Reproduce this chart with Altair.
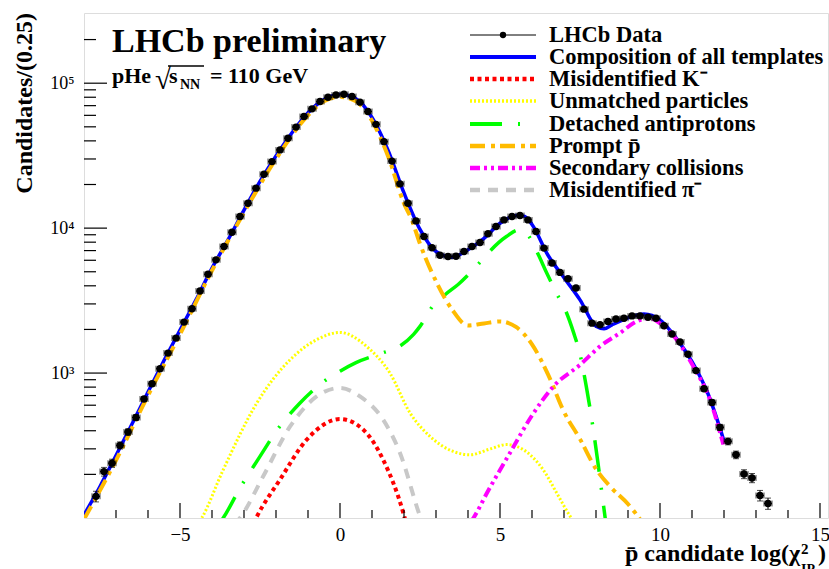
import altair as alt
import pandas as pd

FONT = "Liberation Serif"

# ---------------- data ----------------
bin_width = 0.25
bin_centers = [
    -7.625, -7.375, -7.125, -6.875, -6.625, -6.375, -6.125, -5.875, -5.625, -5.375,
    -5.125, -4.875, -4.625, -4.375, -4.125, -3.875, -3.625, -3.375, -3.125, -2.875,
    -2.625, -2.375, -2.125, -1.875, -1.625, -1.375, -1.125, -0.875, -0.625, -0.375,
    -0.125, 0.125, 0.375, 0.625, 0.875, 1.125, 1.375, 1.625, 1.875, 2.125,
    2.375, 2.625, 2.875, 3.125, 3.375, 3.625, 3.875, 4.125, 4.375, 4.625,
    4.875, 5.125, 5.375, 5.625, 5.875, 6.125, 6.375, 6.625, 6.875, 7.125,
    7.375, 7.625, 7.875, 8.125, 8.375, 8.625, 8.875, 9.125, 9.375, 9.625,
    9.875, 10.125, 10.375, 10.625, 10.875, 11.125, 11.375, 11.625, 11.875, 12.125,
    12.375, 12.625, 12.875, 13.125, 13.375,
]
counts = [
    141, 209, 239, 317, 392, 494, 662, 844, 1071, 1373,
    1743, 2247, 2775, 3679, 4800, 6040, 7465, 9370, 12020, 14860,
    18870, 23560, 28770, 34660, 41750, 49770, 58930, 66530, 74670, 80000,
    83000, 84000, 81000, 74000, 63700, 52000, 39500, 29000, 20200, 14860,
    11220, 8750, 7320, 6500, 6370, 6400, 6900, 7470, 7960, 9140,
    10260, 11400, 12020, 12220, 11400, 9480, 7280, 5740, 4950, 4470,
    3860, 2760, 2210, 2155, 2270, 2360, 2390, 2480, 2480, 2430,
    2390, 2120, 1860, 1640, 1350, 1040, 780, 627, 422, 338,
    273, 201, 189, 143, 126,
]

blue_x = [-8, -7.5, -7, -6.5, -6, -5.5, -5, -4.5, -4, -3.5, -3, -2.5, -2, -1.5, -1, -0.5,
          0, 0.5, 1, 1.5, 2, 2.5, 3, 3.5, 4, 4.5, 5, 5.5, 5.75, 6, 6.5, 7, 7.5, 8, 8.25,
          8.5, 9, 9.5, 10, 10.5, 11, 11.5, 12]
blue_y = [105, 165, 270, 445, 740, 1220, 1980, 3200, 5300, 8300, 13300, 21000, 31500, 45500,
          62500, 77000, 83500, 78000, 58000, 34500, 17500, 9800, 6900, 6300, 7100, 8500, 10800,
          12200, 12100, 10600, 6500, 4550, 3200, 2100, 2020, 2150, 2400, 2560, 2330, 1750,
          1200, 720, 340]

red_x = [-2.7, -2.6, -1.875, -1.04, 0, 0.73, 1.35, 1.98, 2.05]
red_y = [92, 102, 184, 347, 482, 406, 252, 108, 95]

yellow_x = [-4.45, -4.32, -3.65, -2.6, -1.56, -0.73, 0, 0.83, 1.56, 2.19, 2.81, 3.5, 4.06,
            4.7, 5.21, 5.73, 6.35, 6.8, 7.19, 7.3]
yellow_y = [90, 100, 215, 621, 1235, 1700, 1905, 1527, 1000, 530, 366, 290, 273, 300, 321,
            296, 215, 145, 103, 95]

green_x = [-3.8, -3.65, -3.125, -2.5, -2, -1.25, -0.5, 0, 0.5, 1.3, 1.85, 2.3, 2.5, 2.9, 3.3,
           3.7, 4.4, 4.7, 5.2, 5.6, 5.9, 6.2, 6.46, 6.875, 7.0, 7.3, 7.5, 7.7, 7.9, 8.05, 8.2, 8.3]
green_y = [90, 100, 161, 266, 395, 621, 875, 1030, 1180, 1370, 1525, 1850, 2100, 2900, 3500,
           4100, 5900, 7000, 8750, 9730, 8800, 6540, 4900, 3200, 2850, 1900, 1350, 800, 430,
           250, 140, 95]

orange_x = [-8, -7, -6, -5, -4, -3, -2, -1, -0.5, 0, 0.5, 1, 1.5, 2, 2.25, 2.5, 3, 3.5, 4,
            4.5, 5, 5.5, 6, 6.5, 7, 7.5, 8, 8.5, 9, 9.5]
orange_y = [98, 250, 700, 1850, 5100, 12800, 30000, 60000, 75000, 80500, 75000, 55000, 31500,
            14800, 11300, 7800, 4300, 2750, 2130, 2200, 2270, 2080, 1580, 980, 540, 350, 218,
            160, 125, 90]

magenta_x = [4.1, 4.17, 4.6, 5.31, 6.0, 6.67, 7.5, 8.125, 8.75, 9.27, 9.69, 10.0, 10.52,
             11.04, 11.56, 11.98]
magenta_y = [95, 100, 150, 281, 510, 809, 1140, 1527, 1890, 2270, 2390, 2200, 1700, 1112,
             655, 321]

gray_x = [-3.3, -3.125, -2.4, -1.56, -0.73, 0, 0.625, 1.35, 1.875, 2.5, 2.6]
gray_y = [90, 100, 194, 428, 690, 790, 690, 476, 281, 103, 90]

legend_labels = [
    "LHCb Data", "Composition of all templates", "Misidentified K\u207b",
    "Unmatched particles", "Detached antiprotons", "Prompt p\u0304",
    "Secondary collisions", "Misidentified \u03c0\u207b",
]

x_tick_values = [-5, 0, 5, 10, 15]
x_minor_ticks = [-7, -6, -4, -3, -2, -1, 1, 2, 3, 4, 6, 7, 8, 9, 11, 12, 13, 14]
y_tick_values = [1000, 10000, 100000]
y_tick_labels = ["10\u00b3", "10\u2074", "10\u2075"]
y_minor_ticks = [200, 300, 400, 500, 600, 700, 800, 900,
                 2000, 3000, 4000, 5000, 6000, 7000, 8000, 9000,
                 20000, 30000, 40000, 50000, 60000, 70000, 80000, 90000, 200000]

# ---------------- styles ----------------
W, H = 744, 505
styles = [
    # label, x, y, colour, dash, width
    (legend_labels[1], blue_x, blue_y, "#0000FF", None, 3.5),
    (legend_labels[2], red_x, red_y, "#FF0000", [4, 3.5], 4),
    (legend_labels[3], yellow_x, yellow_y, "#FFFF00", [2, 2], 3),
    (legend_labels[4], green_x, green_y, "#00FF00", [32, 16, 2, 16], 3.5),
    (legend_labels[5], orange_x, orange_y, "#FFBB00", [15, 6, 4, 5], 4),
    (legend_labels[6], magenta_x, magenta_y, "#FF00FF", [10, 4, 3, 4, 3, 4], 4),
    (legend_labels[7], gray_x, gray_y, "#C8C8C8", [10, 8], 4),
]

xs = alt.Scale(domain=[-8, 15.25], nice=False, zero=False)
ys = alt.Scale(type="log", domain=[100, 305000], nice=False)

label_expr = " : ".join(
    f"datum.value == {v} ? '{l}'" for v, l in zip(y_tick_values[:-1], y_tick_labels[:-1])
) + f" : '{y_tick_labels[-1]}'"

x_axis = alt.Axis(values=x_tick_values, ticks=False, domain=False, grid=False,
                  labelFont=FONT, labelFontSize=19, labelPadding=7, labelColor="black",
                  labelFlush=False, title=None)
y_axis = alt.Axis(values=y_tick_values, ticks=False, domain=False, grid=False,
                  labelFont=FONT, labelFontSize=18, labelPadding=10, labelColor="black",
                  labelExpr=label_expr, title=None)


def X(field, **kw):
    return alt.X(field, type="quantitative", scale=xs, axis=x_axis, **kw)


def Y(field, **kw):
    return alt.Y(field, type="quantitative", scale=ys, axis=y_axis, **kw)


layers = []

# component curves
for label, cx, cy, col, dash, sw in styles:
    df = pd.DataFrame({"x": cx, "y": cy})
    mk = dict(color=col, strokeWidth=sw, interpolate="monotone", clip=True)
    if dash:
        mk["strokeDash"] = dash
    layers.append(alt.Chart(df).mark_line(**mk).encode(x=X("x"), y=Y("y")))

# data with error bars
data_df = pd.DataFrame({"x": bin_centers, "n": counts})
base = alt.Chart(data_df).transform_calculate(
    lo="datum.n - sqrt(datum.n)",
    hi="datum.n + sqrt(datum.n)",
    xl=f"datum.x - {bin_width / 2}",
    xh=f"datum.x + {bin_width / 2}",
)
layers.append(base.mark_rule(color="black", strokeWidth=1).encode(x=X("xl"), x2="xh:Q", y=Y("n")))
layers.append(base.mark_rule(color="black", strokeWidth=1).encode(x=X("x"), y=Y("lo"), y2="hi:Q"))
for f in ["xl", "xh"]:
    layers.append(base.mark_tick(color="black", orient="vertical", size=6, thickness=1)
                  .encode(x=X(f), y=Y("n")))
for f in ["lo", "hi"]:
    layers.append(base.mark_tick(color="black", orient="horizontal", size=6, thickness=1)
                  .encode(x=X("x"), y=Y(f)))
layers.append(base.mark_circle(color="black", size=55, opacity=1).encode(x=X("x"), y=Y("n")))

# inner ticks (ROOT style)
yt_major = pd.DataFrame({"v": y_tick_values})
yt_minor = pd.DataFrame({"v": y_minor_ticks})
xt_major = pd.DataFrame({"v": x_tick_values})
xt_minor = pd.DataFrame({"v": x_minor_ticks})
layers.append(alt.Chart(yt_major).mark_rule(color="black", strokeWidth=1.2)
              .encode(y=Y("v"), x=alt.value(0), x2=alt.value(23)))
layers.append(alt.Chart(yt_minor).mark_rule(color="black", strokeWidth=1.2)
              .encode(y=Y("v"), x=alt.value(0), x2=alt.value(12)))
layers.append(alt.Chart(xt_major).mark_rule(color="black", strokeWidth=1.2)
              .encode(x=X("v"), y=alt.value(H), y2=alt.value(H - 15)))
layers.append(alt.Chart(xt_minor).mark_rule(color="black", strokeWidth=1.2)
              .encode(x=X("v"), y=alt.value(H), y2=alt.value(H - 8)))


def text(s, x, y, size, weight="bold", align="left", baseline="alphabetic", angle=0):
    kw = dict(font=FONT, fontSize=size, fontWeight=weight, align=align,
              baseline=baseline, color="black")
    if angle:
        kw["angle"] = angle
    return alt.Chart(pd.DataFrame({"t": [s]})).mark_text(**kw).encode(
        x=alt.value(x), y=alt.value(y), text="t:N")


def hline(x1, x2, y, col="black", sw=1.5, dash=None):
    kw = dict(color=col, strokeWidth=sw)
    if dash:
        kw["strokeDash"] = dash
    return alt.Chart(pd.DataFrame({"t": [0]})).mark_rule(**kw).encode(
        x=alt.value(x1), x2=alt.value(x2), y=alt.value(y))


# titles
layers.append(text("LHCb preliminary", 28, 39, 34))
layers.append(text("pHe", 28, 70, 22))
layers.append(text("\u221a", 71, 76, 29, weight="normal"))
layers.append(text("s", 85, 70, 22))
layers.append(text("NN", 96, 76, 14))
layers.append(hline(84, 120, 53, sw=1.3))
layers.append(text("= 110 GeV", 126, 70, 22))

# axis titles
layers.append(text("Candidates/(0.25)", -59, 0, 24, align="right", baseline="middle", angle=270))
layers.append(text("p\u0304 candidate log(\u03c7", 716, 548, 24, align="right"))
layers.append(text("2", 717, 541, 15))
layers.append(text("IP", 717, 561, 14))
layers.append(text(")", 734, 548, 24))

# legend
lx1, lx2, ltx = 386, 452, 465
row_y = [22, 44, 66, 88, 111, 133, 155, 177]
layers.append(hline(lx1, lx2, row_y[0], sw=1))
layers.append(alt.Chart(pd.DataFrame({"t": [0]})).mark_circle(color="black", size=40, opacity=1)
              .encode(x=alt.value((lx1 + lx2) / 2), y=alt.value(row_y[0])))
for (label, _, _, col, dash, sw), ry in zip(styles, row_y[1:]):
    layers.append(hline(lx1, lx2, ry, col=col, sw=sw + 0.5, dash=dash))
for label, ry in zip(legend_labels, row_y):
    layers.append(text(label, ltx, ry, 22.5, baseline="middle"))

chart = alt.layer(*layers).properties(
    width=W, height=H,
    autosize=alt.AutoSizeParams(type="none"),
    padding={"left": 84, "top": 13, "right": 1, "bottom": 51},
).configure_view(stroke="black", strokeWidth=1.2).configure(background="white")

chart.save("out.html", embed_options={"renderer": "svg", "actions": False})
